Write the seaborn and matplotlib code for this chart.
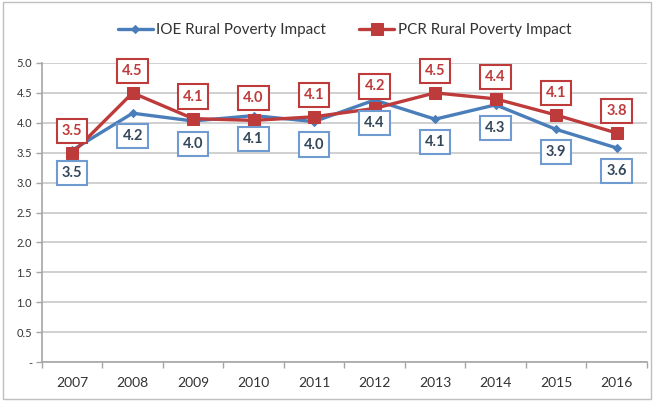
import matplotlib
matplotlib.use("Agg")
import matplotlib.pyplot as plt
import seaborn as sns
import pandas as pd
from matplotlib.ticker import FixedLocator, FuncFormatter

years = ["2007", "2008", "2009", "2010", "2011", "2012", "2013", "2014", "2015", "2016"]
ioe = [3.54, 4.16, 4.03, 4.12, 4.02, 4.38, 4.06, 4.30, 3.89, 3.58]
pcr = [3.49, 4.50, 4.07, 4.04, 4.10, 4.24, 4.50, 4.40, 4.13, 3.83]
ioe_name = "IOE Rural Poverty Impact"
pcr_name = "PCR Rural Poverty Impact"
y_ticks = [0.0, 0.5, 1.0, 1.5, 2.0, 2.5, 3.0, 3.5, 4.0, 4.5, 5.0]

sns.set_theme(style="white")
plt.rcParams["font.family"] = ["Lato", "DejaVu Sans"]

blue = "#4a7ebb"
red = "#be3b3b"

df = pd.DataFrame({
    "x": list(range(len(years))) * 2,
    "value": ioe + pcr,
    "series": [ioe_name] * len(years) + [pcr_name] * len(years),
})

fig = plt.figure(figsize=(6.54, 4.01), dpi=100)
ax = fig.add_axes([0.064, 0.097, 0.925, 0.746])

sns.lineplot(data=df[df.series == ioe_name], x="x", y="value", color=blue, lw=2.4,
             marker="D", markersize=4, markeredgecolor=blue, ax=ax, label=ioe_name)
sns.lineplot(data=df[df.series == pcr_name], x="x", y="value", color=red, lw=2.4,
             marker="s", markersize=8, markeredgecolor=red, ax=ax, label=pcr_name)

for i, (a, b) in enumerate(zip(ioe, pcr)):
    ax.annotate(f"{b:.1f}", (i, b), xytext=(0, 22), textcoords="offset pixels",
                ha="center", va="center", color=red, fontsize=10.5, fontweight="bold",
                bbox=dict(boxstyle="square,pad=0.35", fc="white", ec=red, lw=1.5), zorder=5)
    ax.annotate(f"{a:.1f}", (i, a), xytext=(0, -23), textcoords="offset pixels",
                ha="center", va="center", color="#33475b", fontsize=10.5, fontweight="bold",
                bbox=dict(boxstyle="square,pad=0.35", fc="white", ec="#6f9bd1", lw=1.5), zorder=5)

ax.set_xlim(-0.5, len(years) - 0.5)
ax.set_ylim(0, 5.0)
ax.set_xticks(range(len(years)))
ax.set_xticklabels(years)
ax.xaxis.set_minor_locator(FixedLocator([i - 0.5 for i in range(len(years) + 1)]))
ax.tick_params(axis="x", which="major", length=0, pad=11, labelsize=10, labelcolor="#333333")
ax.tick_params(axis="x", which="minor", length=4, color="#a6a6a6", width=1, direction="out", bottom=True)
ax.set_yticks(y_ticks)
ax.yaxis.set_major_formatter(FuncFormatter(lambda v, p: "-" if v == 0 else f"{v:.1f}"))
ax.tick_params(axis="y", length=4, color="#a6a6a6", width=1, direction="out", left=True,
               labelsize=8, labelcolor="#333333", pad=3)
ax.set_xlabel("")
ax.set_ylabel("")
ax.grid(axis="y", color="#c8c8c8", lw=1.2)
ax.set_axisbelow(True)
for s in ["top", "right"]:
    ax.spines[s].set_visible(False)
for s in ["left", "bottom"]:
    ax.spines[s].set_color("#a6a6a6")
    ax.spines[s].set_linewidth(1.2)

ax.legend(loc="center", bbox_to_anchor=(0.5, 1.11), ncol=2, frameon=False,
          fontsize=11, handlelength=2.3, columnspacing=2.2, handletextpad=0.2,
          labelcolor="#333333")

fig.patches.append(plt.Rectangle((0.004, 0.004), 0.992, 0.99, transform=fig.transFigure,
                                 fill=False, ec="#bfbfbf", lw=1))
fig.savefig("out.png", dpi=100)
